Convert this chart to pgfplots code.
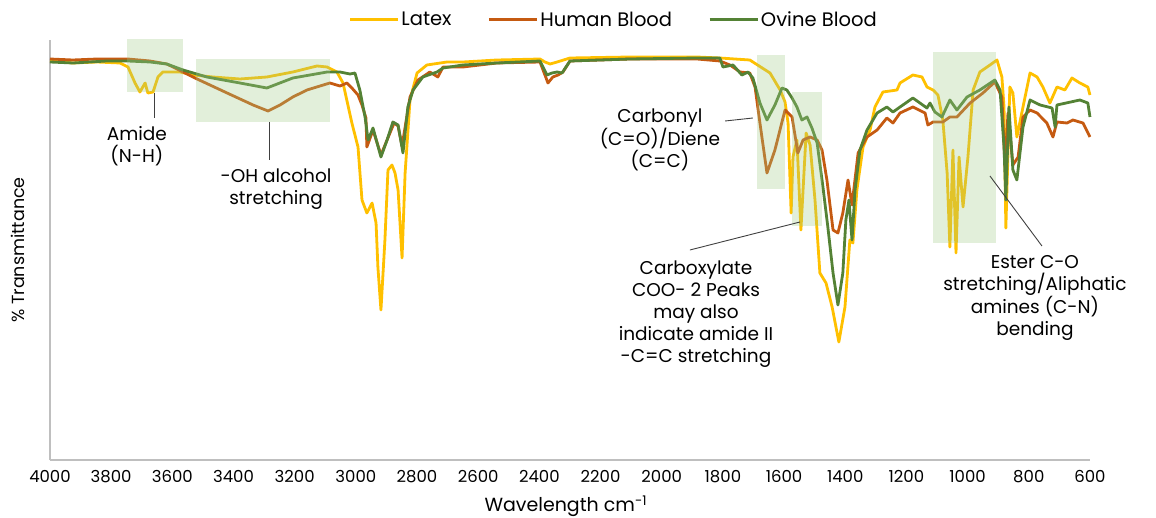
\documentclass[border=0pt]{standalone}
\usepackage{pgfplots}
\pgfplotsset{compat=1.18}
\usepackage{fontspec}
\setmainfont{Poppins}
\definecolor{latexc}{HTML}{FFC000}
\definecolor{humanc}{HTML}{C55A11}
\definecolor{ovinec}{HTML}{548235}
\definecolor{band}{HTML}{A1CB87}
\definecolor{axisgray}{HTML}{BFBFBF}
\definecolor{leader}{HTML}{404040}
\newcommand{\note}{\fontsize{18.5}{22}\selectfont}
\begin{document}
\begin{tikzpicture}
\useasboundingbox (0,0) rectangle (1156pt,517pt);
\begin{axis}[
    at={(50pt,57pt)}, anchor=south west,
    scale only axis, width=1040pt, height=420pt,
    x dir=reverse, xmin=600, xmax=4000, ymin=0, ymax=420,
    axis x line*=bottom, axis y line*=left,
    axis line style={axisgray, line width=1.2pt},
    xtick={600,800,...,4000}, ytick=\empty,
    major tick length=0pt,
    /pgf/number format/assume math mode=true,
    /pgf/number format/set thousands separator={},
    xticklabel style={font=\fontsize{16.5}{16.5}\selectfont, text=black, yshift=-7pt},
    xlabel={Wavelength cm\textsuperscript{-1}},
    xlabel style={at={(axis description cs:0.496,-0.11)}, anchor=center, font=\fontsize{19}{19}\selectfont},
    ylabel={\% Transmittance},
    ylabel style={at={(axis description cs:-0.031,0.5)}, anchor=center, font=\fontsize{17.5}{17.5}\selectfont},
    clip=false,
    legend columns=3,
    legend style={at={(0.542,1.048)}, anchor=center, draw=none, fill=none,
        font=\fontsize{19.5}{19.5}\selectfont,
        /tikz/every even column/.append style={column sep=34pt}},
    legend image code/.code={\draw[#1] (0pt,0pt) -- (48pt,0pt);},
    every axis plot/.append style={line width=2.8pt, line join=round},
]
% Latex
\addplot[color=latexc] coordinates {
(4000,399)(3925,397)(3846,398)(3771,397)(3745,393)(3722,377)(3706,368)(3689,377)(3680,367)(3663,368)
(3647,383)(3631,388)(3575,388)(3532,385)(3467,383)(3379,381)(3291,383)(3206,388)(3127,394)(3094,393)
(3062,388)(3042,377)(3013,337)(2993,313)(2980,260)(2964,247)(2947,257)(2934,237)(2928,193)(2918,150)
(2905,220)(2895,290)(2882,295)(2872,287)(2862,270)(2849,202)(2839,287)(2823,360)(2800,387)(2768,395)
(2702,398)(2650,398)(2539,400)(2398,401)(2382,398)(2365,396)(2342,398)(2300,402)(2104,403)(1885,403)
(1810,402)(1712,400)(1702,398)(1646,387)(1613,370)(1597,358)(1587,337)(1577,247)(1571,303)(1558,320)
(1545,230)(1528,327)(1515,315)(1499,260)(1483,187)(1463,177)(1443,153)(1421,118)(1401,153)(1385,220)
(1375,217)(1362,270)(1342,313)(1319,330)(1303,353)(1277,368)(1231,370)(1221,377)(1179,385)(1149,383)
(1133,373)(1113,370)(1097,365)(1081,340)(1067,287)(1058,213)(1048,310)(1038,207)(1028,303)(1015,253)
(999,303)(982,370)(960,388)(927,395)(904,400)(888,383)(881,353)(875,232)(862,373)(852,367)
(839,323)(819,353)(796,387)(773,383)(754,373)(731,357)(708,373)(682,370)(659,382)(633,377)
(607,373)(600,365)};
% Human blood
\addplot[color=humanc] coordinates {
(4000,401)(3925,400)(3846,401)(3745,401)(3673,399)(3618,396)(3565,388)(3519,381)(3421,367)(3336,355)
(3287,349)(3248,355)(3206,363)(3160,370)(3085,377)(3052,374)(3029,377)(3013,372)(2993,365)(2980,355)
(2967,342)(2964,313)(2944,330)(2918,305)(2898,320)(2875,337)(2862,334)(2849,314)(2823,363)(2797,380)
(2758,388)(2732,383)(2715,393)(2650,393)(2539,397)(2398,398)(2372,377)(2356,383)(2339,385)(2323,388)
(2300,399)(2104,401)(1885,401)(1810,399)(1777,395)(1744,388)(1712,387)(1695,373)(1679,337)(1656,287)
(1630,310)(1597,350)(1574,343)(1555,307)(1538,320)(1515,323)(1492,320)(1476,310)(1460,280)(1440,230)
(1424,227)(1408,247)(1391,280)(1378,255)(1358,307)(1329,323)(1296,330)(1264,342)(1244,337)(1221,347)
(1179,353)(1139,347)(1130,335)(1113,338)(1081,338)(1058,343)(1035,343)(992,357)(950,367)(911,378)
(888,363)(878,293)(868,347)(852,295)(835,303)(819,343)(796,350)(773,347)(741,337)(721,323)
(708,338)(675,337)(656,340)(623,337)(600,323)};
% Ovine blood
\addplot[color=ovinec] coordinates {
(4000,398)(3925,397)(3814,399)(3745,399)(3673,398)(3618,396)(3565,390)(3487,383)(3379,377)(3291,372)
(3206,382)(3094,388)(3052,388)(3019,386)(3003,387)(2987,370)(2970,343)(2960,320)(2944,332)(2918,303)
(2898,320)(2879,338)(2862,335)(2846,307)(2830,353)(2813,370)(2781,383)(2735,388)(2715,392)(2650,395)
(2539,397)(2398,399)(2375,385)(2359,387)(2342,388)(2326,387)(2300,399)(2104,401)(1885,402)(1810,402)
(1800,393)(1767,395)(1738,385)(1718,388)(1702,382)(1679,357)(1656,340)(1630,355)(1607,372)(1591,370)
(1574,362)(1558,353)(1542,340)(1525,343)(1509,332)(1492,317)(1473,273)(1457,233)(1440,187)(1424,155)
(1408,187)(1398,240)(1388,260)(1378,220)(1368,270)(1352,310)(1329,330)(1296,347)(1264,353)(1244,348)
(1221,353)(1179,362)(1133,352)(1123,357)(1107,348)(1084,343)(1058,360)(1035,350)(1002,363)(960,370)
(911,380)(894,370)(881,313)(875,260)(865,353)(852,290)(839,280)(819,333)(796,360)(763,355)
(724,352)(714,333)(708,355)(633,360)(607,357)(600,343)};
\legend{Latex, Human Blood, Ovine Blood}

% highlighted bands
\fill[band, fill opacity=0.31] (axis cs:3748,368) rectangle (axis cs:3565,421);
\fill[band, fill opacity=0.31] (axis cs:3523,338) rectangle (axis cs:3085,401);
\fill[band, fill opacity=0.31] (axis cs:1689,271) rectangle (axis cs:1597,405);
\fill[band, fill opacity=0.31] (axis cs:1574,234) rectangle (axis cs:1476,368);
\fill[band, fill opacity=0.31] (axis cs:1113,217) rectangle (axis cs:907,408);

% annotations
\draw[leader, line width=0.9pt] (axis cs:3660,367) -- (axis cs:3660,342);
\node[align=center, font=\note] at (axis cs:3716,314) {Amide\\(N-H)};
\draw[leader, line width=0.9pt] (axis cs:3281,338) -- (axis cs:3281,300);
\node[align=center, font=\note] at (axis cs:3261,271) {-OH alcohol\\stretching};
\draw[leader, line width=0.9pt] (axis cs:1793,339) -- (axis cs:1702,342);
\node[align=center, font=\note] at (axis cs:2006,320) {Carbonyl\\(C=O)/Diene\\(C=C)};
\draw[leader, line width=0.9pt] (axis cs:1908,210) -- (axis cs:1548,238);
\node[align=center, font=\note] at (axis cs:1888,146) {Carboxylate\\COO- 2 Peaks\\may also\\indicate amide II\\-C=C stretching};
\draw[leader, line width=0.9pt] (axis cs:927,284) -- (axis cs:757,214);
\node[align=center, font=\note] at (axis cs:780,162) {Ester C-O\\stretching/Aliphatic\\amines (C-N)\\bending};
\end{axis}
\end{tikzpicture}
\end{document}
